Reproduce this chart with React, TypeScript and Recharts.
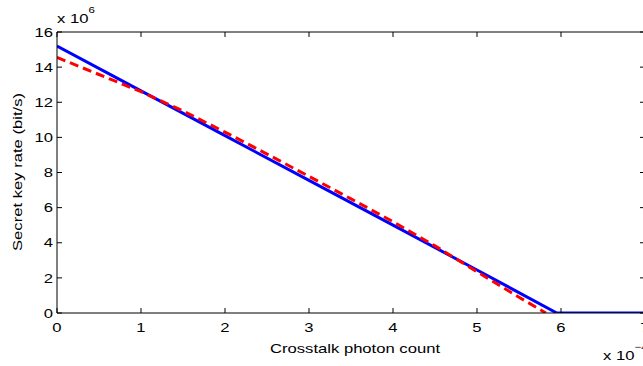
import { LineChart, Line, XAxis, YAxis } from "recharts";

// x axis in units of 1e-4, y axis in units of 1e6 bit/s
const xTicks = [0, 1, 2, 3, 4, 5, 6, 7];
const yTicks = [0, 2, 4, 6, 8, 10, 12, 14, 16];

// blue solid curve
const blueX = [0, 1, 2, 3, 4, 5, 5.95, 7];
const blueY = [15.2, 12.65, 10.1, 7.55, 5.0, 2.45, 0, 0];

// red dashed curve
const redX = [0, 0.5, 1, 1.5, 2, 2.5, 3, 3.5, 4, 4.5, 5, 5.5, 5.82];
const redY = [14.55, 13.58, 12.6, 11.5, 10.3, 9.05, 7.78, 6.5, 5.2, 3.82, 2.35, 0.9, 0];

const blueData = blueX.map((x, i) => ({ x, y: blueY[i] }));
const redData = redX.map((x, i) => ({ x, y: redY[i] }));

const FONT = "'Liberation Sans', Arial, Helvetica, sans-serif";
const SX = 1.28;
const TICK = 5;

// left axis: label plus inward tick (tickSize 0, tickMargin 4)
const LeftTick = (p: any) => (
  <g>
    <line x1={p.x + 4} y1={p.y} x2={p.x + 4 + TICK} y2={p.y} stroke="#000" />
    <text
      transform={`translate(${p.x},${p.y}) scale(${SX},1)`}
      textAnchor="end"
      dy="0.36em"
      fontSize={13}
      fontFamily={FONT}
      fill="#000"
    >
      {p.payload.value}
    </text>
  </g>
);

// bottom axis: label plus inward tick (tickSize 0, tickMargin 10)
const BottomTick = (p: any) => (
  <g>
    <line x1={p.x} y1={p.y - 10} x2={p.x} y2={p.y - 10 - TICK} stroke="#000" />
    <text
      transform={`translate(${p.x},${p.y}) scale(${SX},1)`}
      textAnchor="middle"
      dy="0.71em"
      fontSize={13}
      fontFamily={FONT}
      fill="#000"
    >
      {p.payload.value}
    </text>
  </g>
);

const TopTick = (p: any) => (
  <line x1={p.x} y1={p.y} x2={p.x} y2={p.y + TICK} stroke="#000" />
);

const RightTick = (p: any) => (
  <line x1={p.x} y1={p.y} x2={p.x - TICK} y2={p.y} stroke="#000" />
);

const App = () => {
  return (
    <div
      style={{
        position: "absolute",
        left: 0,
        top: 0,
        width: 643,
        height: 366,
        overflow: "hidden",
        background: "#fff",
      }}
    >
      <LineChart
        width={700}
        height={366}
        data={blueData}
        margin={{ top: 31, right: 54, bottom: 33, left: 0 }}
      >
        <XAxis
          dataKey="x"
          type="number"
          domain={[0, 7]}
          ticks={xTicks}
          height={20}
          stroke="#000"
          tickSize={0}
          tickMargin={10}
          tick={BottomTick}
          allowDataOverflow
        />
        <XAxis
          xAxisId="top"
          dataKey="x"
          orientation="top"
          type="number"
          domain={[0, 7]}
          ticks={xTicks}
          height={1}
          stroke="#000"
          tickSize={0}
          tickMargin={0}
          tick={TopTick}
          allowDataOverflow
        />
        <YAxis
          type="number"
          domain={[0, 16]}
          ticks={yTicks}
          width={57}
          stroke="#000"
          tickSize={0}
          tickMargin={4}
          tick={LeftTick}
          allowDataOverflow
        />
        <YAxis
          yAxisId="r"
          dataKey="y"
          orientation="right"
          type="number"
          domain={[0, 16]}
          ticks={yTicks}
          width={1}
          stroke="#000"
          tickSize={0}
          tickMargin={0}
          tick={RightTick}
          allowDataOverflow
        />
        <Line
          dataKey="y"
          type="linear"
          stroke="#0000ff"
          strokeWidth={3}
          dot={false}
          activeDot={false}
          isAnimationActive={false}
        />
        <Line
          data={redData}
          dataKey="y"
          type="linear"
          stroke="#ff0000"
          strokeWidth={3}
          strokeDasharray="9 5"
          dot={false}
          activeDot={false}
          isAnimationActive={false}
        />
      </LineChart>
      <svg
        width={643}
        height={366}
        style={{ position: "absolute", left: 0, top: 0, pointerEvents: "none" }}
        fontFamily={FONT}
        fill="#000"
      >
        <text transform={`translate(57,22.7) scale(${SX},1)`} fontSize={13}>
          x 10
          <tspan dy={-9.5} fontSize={9}>
            6
          </tspan>
        </text>
        <text transform={`translate(603,360) scale(${SX},1)`} fontSize={13}>
          x 10
          <tspan dy={-10} fontSize={9}>
            −4
          </tspan>
        </text>
        <text
          transform={`translate(355,352.7) scale(${SX},1)`}
          fontSize={13}
          textAnchor="middle"
        >
          Crosstalk photon count
        </text>
        <text
          transform={`translate(21.5,172) rotate(-90) scale(${SX},1)`}
          fontSize={13}
          textAnchor="middle"
        >
          Secret key rate (bit/s)
        </text>
      </svg>
    </div>
  );
};

export default App;
